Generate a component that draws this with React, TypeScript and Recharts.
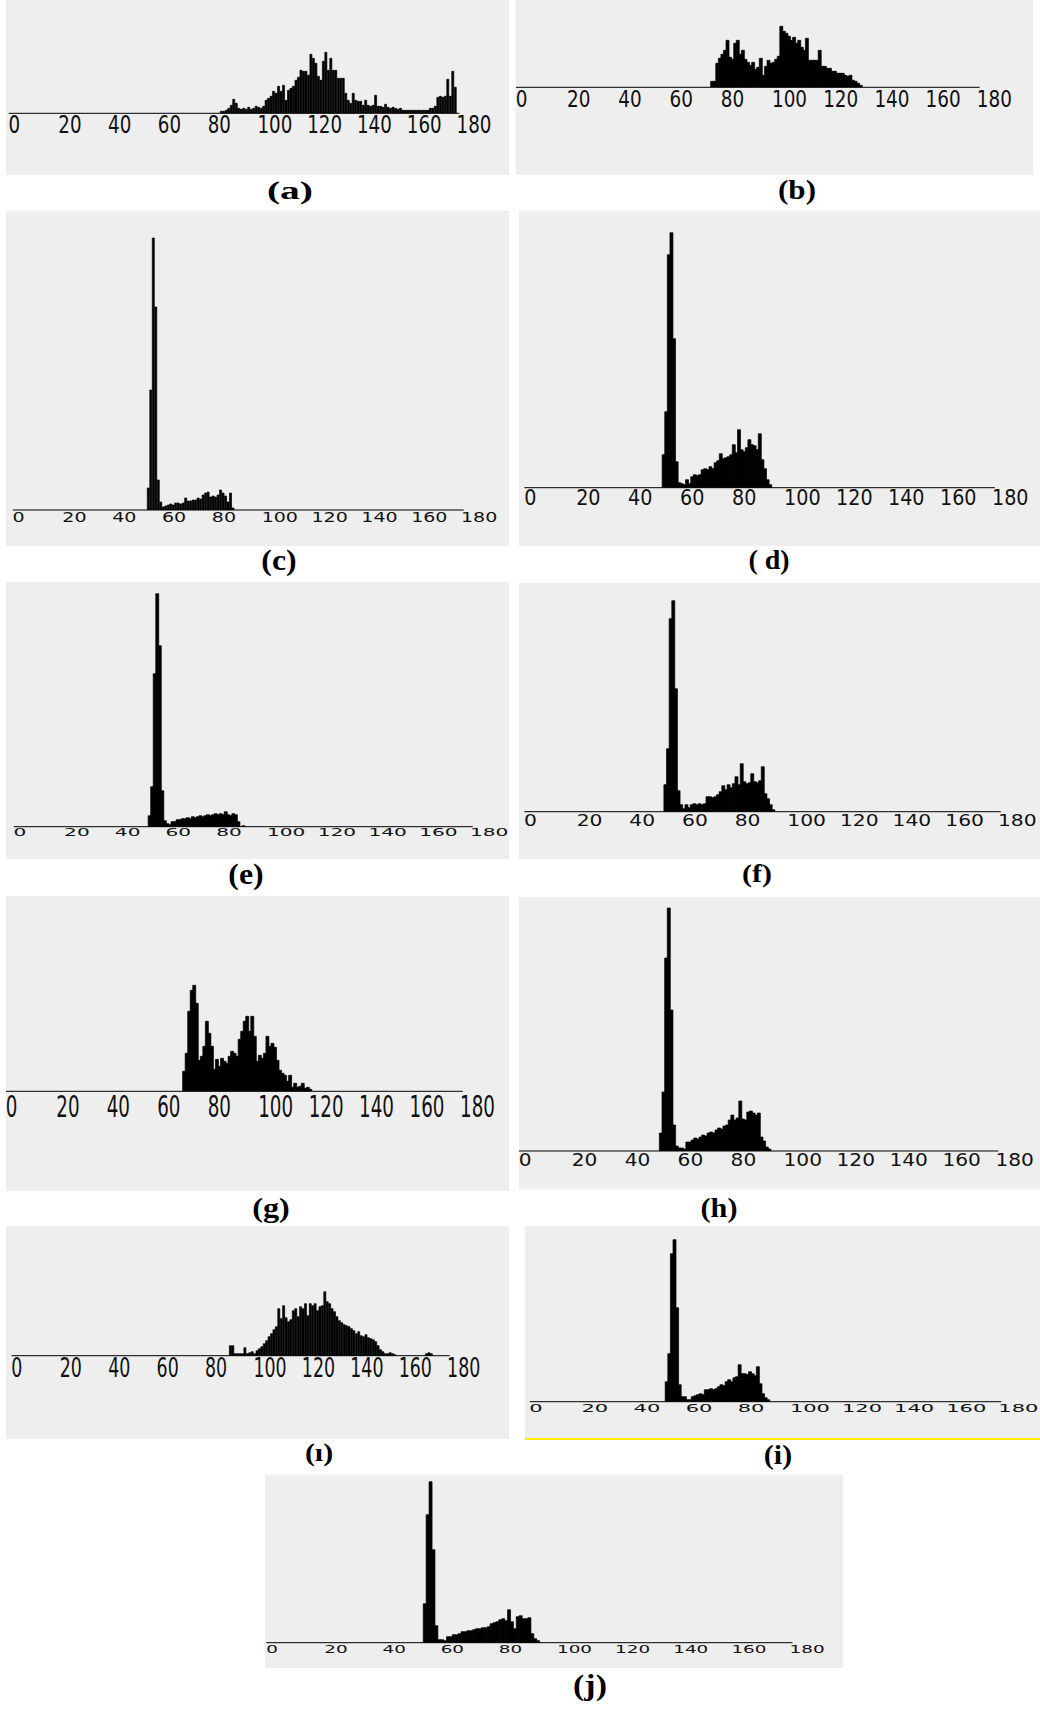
// Hue histograms (a)–(j): one grey panel per image, bins 0..180
import React from 'react';
import { BarChart, Bar, XAxis, YAxis } from 'recharts';

// categories: hue bins 0..180, labelled every 20
const BINS = Array.from({ length: 181 }, (_, i) => i);
const TICK_STEP = 20;

// series values (bar heights), each with its first bin
const aStart = 85;
const aCounts = [
  2, 2, 3, 5, 8, 14, 10, 5, 4, 5, 4, 6, 4, 5, 7, 6, 5, 7, 13, 15,
  17, 22, 20, 27, 22, 28, 13, 23, 25, 27, 33, 36, 43, 42, 42, 38, 59, 55, 50, 37,
  33, 52, 61, 43, 55, 43, 43, 35, 35, 35, 20, 13, 10, 20, 13, 12, 12, 8, 13, 8,
  7, 8, 18, 7, 7, 6, 9, 6, 5, 6, 5, 4, 5, 3, 3, 3, 3, 3, 3, 3,
  3, 3, 3, 3, 5, 5, 7, 16, 17, 16, 17, 34, 17, 42, 26,
];

const bStart = 76;
const bCounts = [
  6, 6, 24, 29, 33, 37, 47, 30, 28, 44, 47, 33, 37, 28, 25, 22, 25, 18, 20, 29,
  12, 21, 27, 24, 25, 28, 31, 61, 56, 54, 51, 47, 50, 44, 47, 40, 37, 49, 27, 27,
  27, 27, 37, 21, 21, 19, 19, 16, 16, 14, 14, 14, 12, 11, 12, 7, 6, 4, 2,
];

const cStart = 54;
const cCounts = [
  22, 120, 272, 203, 30, 8, 3, 4, 5, 6, 5, 7, 7, 6, 7, 12, 9, 9, 10, 10,
  12, 11, 15, 17, 18, 13, 14, 13, 15, 20, 17, 14, 8, 17, 2,
];

const dStart = 53;
const dCounts = [
  33, 76, 233, 255, 149, 26, 5, 4, 3, 8, 4, 11, 13, 12, 13, 18, 19, 18, 21, 19,
  25, 27, 34, 29, 30, 31, 33, 43, 35, 58, 38, 36, 40, 48, 43, 42, 38, 54, 28, 19,
  8, 3,
];

const eStart = 53;
const eCounts = [
  11, 40, 153, 233, 181, 36, 6, 3, 2, 5, 5, 7, 7, 8, 8, 9, 8, 10, 9, 10,
  11, 10, 11, 12, 11, 12, 13, 12, 13, 12, 15, 12, 11, 13, 12, 5, 0, 1,
];

const fStart = 53;
const fCounts = [
  27, 63, 193, 211, 123, 21, 7, 3, 7, 4, 7, 8, 7, 8, 7, 8, 15, 15, 14, 15,
  17, 20, 26, 22, 27, 24, 28, 35, 27, 48, 30, 28, 29, 38, 30, 29, 31, 45, 18, 13,
  7, 2,
];

const gStart = 70;
const gCounts = [
  20, 38, 80, 101, 106, 88, 31, 35, 45, 70, 58, 45, 22, 32, 25, 33, 30, 28, 35, 40,
  38, 35, 52, 60, 70, 75, 60, 75, 55, 30, 36, 33, 38, 55, 45, 48, 44, 31, 21, 18,
  16, 10, 16, 4, 8, 4, 5, 8, 3, 4, 2,
];

const hStart = 53;
const hCounts = [
  18, 59, 193, 243, 141, 26, 5, 3, 3, 2, 9, 9, 11, 13, 12, 14, 16, 15, 18, 19,
  18, 21, 23, 22, 25, 26, 31, 36, 31, 33, 50, 32, 31, 39, 40, 38, 36, 38, 14, 10,
  4, 2,
];

const iDotlessStart = 90;
const iDotlessCounts = [
  10, 10, 2, 2, 2, 2, 8, 2, 3, 4, 2, 5, 7, 9, 12, 15, 19, 22, 26, 29,
  47, 37, 50, 38, 34, 36, 45, 47, 39, 49, 47, 52, 40, 52, 50, 52, 45, 49, 50, 64,
  54, 52, 47, 44, 39, 35, 33, 31, 30, 29, 27, 25, 22, 24, 20, 19, 21, 18, 17, 16,
  14, 10, 6, 4, 2, 2, 3, 2, 1, 0, 0, 0, 0, 0, 0, 0, 0, 0, 0, 0,
  0, 2, 3, 2,
];

const iStart = 52;
const iCounts = [
  20, 48, 148, 162, 94, 17, 5, 5, 2, 2, 5, 6, 7, 8, 7, 12, 12, 13, 12, 13,
  15, 17, 16, 20, 22, 20, 24, 25, 37, 28, 28, 27, 30, 28, 26, 35, 18, 8, 4, 2,
];

const jStart = 54;
const jCounts = [
  39, 128, 161, 93, 17, 3, 3, 2, 6, 6, 8, 8, 9, 11, 11, 12, 12, 13, 14, 14,
  15, 15, 16, 19, 20, 21, 23, 24, 22, 33, 21, 14, 26, 27, 24, 24, 25, 9, 4, 2,
];

// 面板の配置 (box = [left, top, width, height])
const PANELS = [
  { start: aStart, counts: aCounts, box: [6, 0, 503, 175], axisY: 113.3, x0: 10, x180: 458,
    tick: { fs: 24.7, sx: 0.74, dy: 19.7 }, cap: { text: '(a)', x: 290, y: 193, fs: 25, sx: 1.58 } },
  { start: bStart, counts: bCounts, box: [516, 0, 517, 175], axisY: 87.3, x0: 516.7, x180: 978.3,
    tick: { fs: 23.3, sx: 0.79, dy: 19.7 }, cap: { text: '(b)', x: 797, y: 193, fs: 27, sx: 1.15 } },
  { start: cStart, counts: cCounts, box: [6, 211, 503, 335], axisY: 510, x0: 14, x180: 462.5,
    tick: { fs: 13.7, sx: 1.39, dy: 11.7 }, cap: { text: '(c)', x: 279, y: 563, fs: 30, sx: 1.06 } },
  { start: dStart, counts: dCounts, box: [519, 211, 521, 335], axisY: 487.7, x0: 525.7, x180: 993.5,
    tick: { fs: 20.6, sx: 0.93, dy: 17.3 }, cap: { text: '( d)', x: 769, y: 563, fs: 28, sx: 1.0 } },
  { start: eStart, counts: eCounts, box: [6, 582, 503, 277], axisY: 826.7, x0: 15, x180: 471.5,
    tick: { fs: 9.6, sx: 2.1, dy: 9 }, cap: { text: '(e)', x: 246, y: 877, fs: 30, sx: 1.06 } },
  { start: fStart, counts: fCounts, box: [519, 583, 521, 276], axisY: 811.7, x0: 525.7, x180: 999.5,
    tick: { fs: 15.6, sx: 1.3, dy: 14 }, cap: { text: '(f)', x: 757, y: 877, fs: 26, sx: 1.15 } },
  { start: gStart, counts: gCounts, box: [6, 896, 503, 295], axisY: 1091.3, x0: 6.7, x180: 461.5,
    tick: { fs: 31, sx: 0.59, dy: 25.4 }, cap: { text: '(g)', x: 271, y: 1211, fs: 28, sx: 1.15 } },
  { start: hStart, counts: hCounts, box: [519, 897, 521, 292], axisY: 1151, x0: 520, x180: 997,
    tick: { fs: 17.4, sx: 1.16, dy: 15 }, cap: { text: '(h)', x: 719, y: 1211, fs: 28, sx: 1.08 } },
  { start: iDotlessStart, counts: iDotlessCounts, box: [6, 1226, 503, 213], axisY: 1355.7, x0: 12.7, x180: 448.5,
    tick: { fs: 26, sx: 0.67, dy: 21.6 }, cap: { text: '(ı)', x: 319, y: 1456, fs: 26, sx: 1.15 } },
  { start: iStart, counts: iCounts, box: [525, 1226, 515, 212], axisY: 1401.7, x0: 531, x180: 1000,
    tick: { fs: 10.5, sx: 2.0, dy: 10 }, cap: { text: '(i)', x: 778, y: 1458, fs: 28, sx: 1.07 } },
  { start: jStart, counts: jCounts, box: [265, 1475, 578, 193], axisY: 1642.7, x0: 267.7, x180: 791,
    tick: { fs: 10.5, sx: 1.75, dy: 10 }, cap: { text: '(j)', x: 590, y: 1688, fs: 30, sx: 1.13 } },
];

type TickCfg = { fs: number; sx: number; dy: number };

// 目盛りラベル (左揃え、横方向に伸縮)
const HistTick = ({ x, y, payload, cfg }: any) => {
  const c = cfg as TickCfg;
  return (
    <text
      transform={`translate(${x - 0.08 * c.fs * c.sx},${y + c.dy}) scale(${c.sx},1)`}
      fontSize={c.fs}
      fontFamily="'DejaVu Sans', sans-serif"
      fill="#111"
      textAnchor="start"
    >
      {payload.value}
    </text>
  );
};

const Histogram = ({ panel }: { panel: (typeof PANELS)[number] }) => {
  const [left, top, width, height] = panel.box;
  const u = (panel.x180 - panel.x0) / 180;
  const plotLeft = Math.max(0, panel.x0 - u / 2 - left);
  const plotRight = panel.x180 + u / 2 - left;
  const plotH = panel.axisY - top;

  const data = BINS.map((bin) => {
    const k = bin - panel.start;
    return { bin, v: k >= 0 && k < panel.counts.length ? panel.counts[k] : 0 };
  });

  return (
    <div style={{ position: 'absolute', left, top, width, height, background: '#eeeeee' }}>
      <BarChart
        width={width}
        height={height}
        data={data}
        barCategoryGap={0}
        barGap={0}
        margin={{ top: 0, bottom: 0, left: plotLeft, right: width - plotRight }}
      >
        <XAxis
          dataKey="bin"
          interval={TICK_STEP - 1}
          tickLine={false}
          tickSize={0}
          tickMargin={0}
          height={height - plotH}
          axisLine={{ stroke: '#000', strokeWidth: 1 }}
          tick={(p: any) => <HistTick {...p} cfg={panel.tick} />}
        />
        <YAxis hide domain={[0, plotH]} allowDataOverflow />
        <Bar dataKey="v" fill="#000" stroke="#000" strokeWidth={0.7} isAnimationActive={false} />
      </BarChart>
    </div>
  );
};

const Caption = ({ cap }: { cap: (typeof PANELS)[number]['cap'] }) => (
  <div
    style={{
      position: 'absolute',
      left: cap.x,
      top: cap.y,
      transform: `translate(-50%, -60%) scaleX(${cap.sx})`,
      fontFamily: "'Liberation Serif', 'Times New Roman', serif",
      fontWeight: 700,
      fontSize: cap.fs,
      lineHeight: 1,
      whiteSpace: 'pre',
      color: '#000',
    }}
  >
    {cap.text}
  </div>
);

export default function App() {
  return (
    <div style={{ position: 'absolute', left: 0, top: 0, width: 1040, height: 1712, background: '#fff', overflow: 'hidden' }}>
      {PANELS.map((p, i) => (
        <Histogram key={i} panel={p} />
      ))}
      {PANELS.map((p, i) => (
        <Caption key={`c${i}`} cap={p.cap} />
      ))}
      {/* (i) の下の黄色い線 */}
      <div style={{ position: 'absolute', left: 525, top: 1438, width: 515, height: 1.5, background: '#ffee00' }} />
    </div>
  );
}
